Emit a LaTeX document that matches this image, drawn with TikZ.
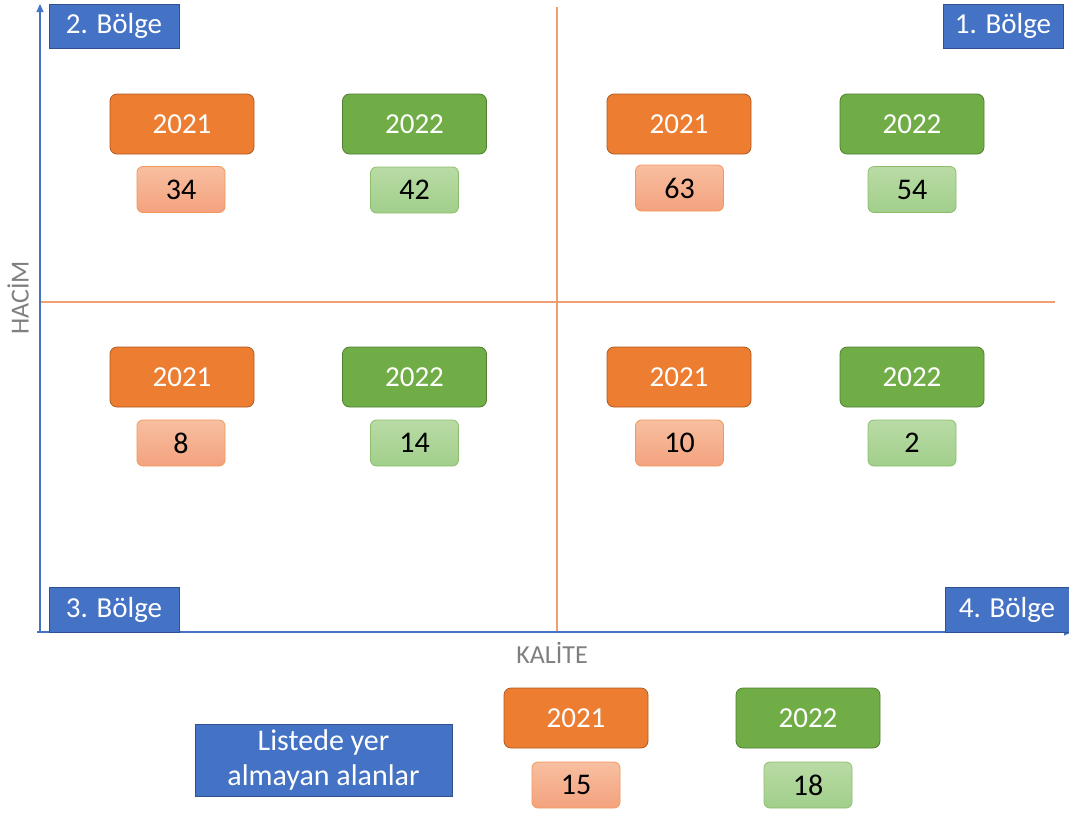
\documentclass[tikz,border=0pt]{standalone}
\usepackage{fontspec}
\setmainfont{Carlito}
\usetikzlibrary{arrows.meta}
\definecolor{cblue}{HTML}{4472C4}
\definecolor{cblueD}{HTML}{2F528F}
\definecolor{corange}{HTML}{ED7D31}
\definecolor{corangeD}{HTML}{AE5A21}
\definecolor{cgreen}{HTML}{70AD47}
\definecolor{cgreenD}{HTML}{507E32}
\definecolor{lorange1}{HTML}{F7BFA0}
\definecolor{lorange2}{HTML}{F4A27E}
\definecolor{lgreen1}{HTML}{B9DBA5}
\definecolor{lgreen2}{HTML}{A1CF8B}
\definecolor{cgrey}{HTML}{7F7F7F}
\definecolor{caxis}{HTML}{4472C4}
\definecolor{cquad}{HTML}{F0A070}
\tikzset{
  region/.style={draw=cblueD, fill=cblue, text=white, inner sep=0pt, font=\fontsize{29}{34}\selectfont, line width=0.8pt},
  yr/.style={rounded corners=7pt, inner sep=0pt, minimum width=144pt, minimum height=60pt, text=white, font=\fontsize{29}{34}\selectfont, line width=0.8pt},
  yrA/.style={yr, fill=corange, draw=corangeD},
  yrB/.style={yr, fill=cgreen, draw=cgreenD},
  val/.style={rounded corners=6pt, inner sep=0pt, minimum width=88pt, minimum height=46pt, text=black, font=\fontsize{30}{34}\selectfont, line width=0.8pt},
  valA/.style={val, top color=lorange1, bottom color=lorange2, draw=corange!80},
  valB/.style={val, top color=lgreen1, bottom color=lgreen2, draw=cgreen!80},
  axislbl/.style={text=cgrey, font=\fontsize{26}{30}\selectfont, inner sep=0pt},
  quad/.style={draw=cquad, line width=1.3pt},
  axis/.style={draw=caxis, line width=1.1pt}
}
\begin{document}
\begin{tikzpicture}[x=1pt,y=-1pt]
\useasboundingbox (0,0) rectangle (1069,812);
% quadrant lines
\coordinate (vt) at (557,7);
\coordinate (vb) at (557,632);
\coordinate (hl) at (40,302);
\coordinate (hr) at (1055,302);
\draw[quad] (vt) -- (vb);
\draw[quad] (hl) -- (hr);
% axes
\coordinate (o) at (40,632);
\coordinate (ytop) at (40,4);
\coordinate (xl) at (37,632);
\coordinate (xr) at (1072,632);
\draw[axis,-{Triangle[length=8pt,width=7pt]}] (o) -- (ytop);
\draw[axis,-{Triangle[length=8pt,width=7pt]}] (xl) -- (xr);
% region boxes
\node[region, minimum width=130pt, minimum height=44pt] (r2) at (114,26) {2. Bölge};
\node[region, minimum width=120pt, minimum height=44pt] (r1) at (1003,26) {1. Bölge};
\node[region, minimum width=130pt, minimum height=45pt] (r3) at (114,609.5) {3. Bölge};
\node[region, minimum width=124pt, minimum height=45pt] (r4) at (1007,609.5) {4. Bölge};
% axis labels
\node[axislbl, rotate=90] (hacim) at (18,298) {HACİM};
\node[axislbl] (kalite) at (552,653) {KALİTE};
% quadrant 2
\node[yrA] (a2) at (182,124) {2021};
\node[valA] (a2v) at (181,189.5) {34};
\node[yrB] (b2) at (414.5,124) {2022};
\node[valB] (b2v) at (414.5,190) {42};
% quadrant 1
\node[yrA] (a1) at (679,124) {2021};
\node[valA] (a1v) at (679.5,188) {63};
\node[yrB] (b1) at (912,124) {2022};
\node[valB] (b1v) at (912,189.5) {54};
% quadrant 3
\node[yrA] (a3) at (182,377) {2021};
\node[valA] (a3v) at (181,443) {8};
\node[yrB] (b3) at (414.5,377) {2022};
\node[valB] (b3v) at (414.5,443) {14};
% quadrant 4
\node[yrA] (a4) at (679,377) {2021};
\node[valA] (a4v) at (679.5,443) {10};
\node[yrB] (b4) at (912,377) {2022};
\node[valB] (b4v) at (912,443) {2};
% bottom
\node[region, minimum width=257pt, minimum height=72pt, align=center, font=\fontsize{30}{35}\selectfont] (list) at (323.5,760) {Listede yer\\almayan alanlar};
\node[yrA] (a5) at (576,718) {2021};
\node[valA] (a5v) at (576,785) {15};
\node[yrB] (b5) at (808,718) {2022};
\node[valB] (b5v) at (808,785) {18};
\end{tikzpicture}
\end{document}
